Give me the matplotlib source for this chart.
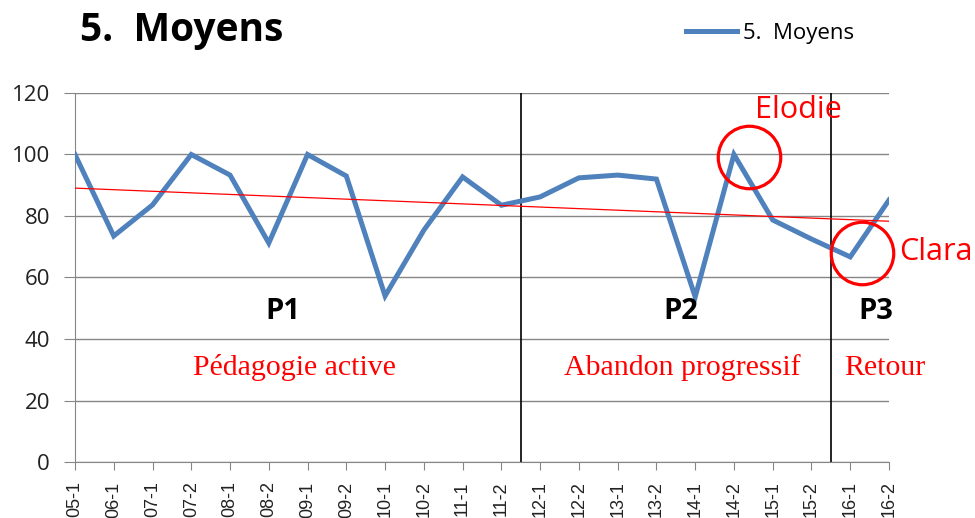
import numpy as np
import matplotlib.pyplot as plt

# semesters (year-semester)
periods = ["05-1", "06-1", "07-1", "07-2", "08-1", "08-2", "09-1", "09-2",
           "10-1", "10-2", "11-1", "11-2", "12-1", "12-2", "13-1", "13-2",
           "14-1", "14-2", "15-1", "15-2", "16-1", "16-2"]
moyens = [100, 73.5, 83.6, 100, 93.3, 71.2, 100, 93, 54, 75.4, 92.7, 83.5,
          86.2, 92.4, 93.3, 92, 53.7, 100, 78.7, 72.5, 66.7, 85.2]

# phase separators and labels
separators = [11.5, 19.5]
phases = ["P1", "P2", "P3"]
phase_x = [5.37, 15.63, 20.67]
phase_names = ["Pédagogie active", "Abandon progressif", "Retour"]
phase_name_x = [5.66, 15.68, 20.9]

# highlighted students
students = ["Elodie", "Clara"]
circle_xy = [(17.39, 99.2), (20.31, 68.0)]
student_xy = [(18.66, 114.5), (22.2, 68.3)]

blue = "#4F81BD"
grey = "#868686"

fig = plt.figure(figsize=(9.75, 5.18), dpi=100)
ax = fig.add_axes([0.0769, 0.1081, 0.8349, 0.7124])

x = np.arange(len(periods))
ax.plot(x, moyens, color=blue, linewidth=3.6, label="5.  Moyens",
        solid_joinstyle="miter", zorder=3)

# linear trend like Excel
slope, intercept = np.polyfit(x, moyens, 1)
ax.plot(x, slope * x + intercept, color="red", linewidth=0.9, zorder=4)

for s in separators:
    ax.axvline(s, color="black", linewidth=1.2, zorder=2)

ax.set_xlim(0, len(periods) - 1)
ax.set_ylim(0, 120)
ax.set_yticks(range(0, 121, 20))
ax.set_xticks(x)
ax.set_xticklabels(periods, rotation=90, family="Liberation Sans", fontsize=13)
for lbl in ax.get_yticklabels():
    lbl.set_family("Open Sans")
    lbl.set_fontsize(16)
ax.yaxis.grid(True, color=grey, linewidth=1)
ax.set_axisbelow(True)
for side in ["top", "right"]:
    ax.spines[side].set_visible(False)
for side in ["left", "bottom"]:
    ax.spines[side].set_color(grey)
ax.tick_params(axis="y", length=8, color=grey, pad=10, labelcolor="#222222")
ax.tick_params(axis="x", length=6, color=grey, pad=8, labelcolor="#222222")

for name, px in zip(phases, phase_x):
    ax.text(px, 49, name, ha="center", va="center", fontsize=21,
            fontweight="bold", family="Open Sans")
for name, px in zip(phase_names, phase_name_x):
    ax.text(px, 30.6, name, ha="center", va="center", fontsize=21.5,
            color="red", family="Liberation Serif")

for (cx, cy), (tx, ty), name in zip(circle_xy, student_xy, students):
    ax.plot(cx, cy, marker="o", markersize=45, markerfacecolor="none",
            markeredgecolor="red", markeredgewidth=2.3, clip_on=False, zorder=5)
    ax.text(tx, ty, name, ha="center", va="center", fontsize=22,
            color="red", family="Open Sans")

fig.text(80 / 975, 1 - 31 / 518, "5.  Moyens", fontsize=28, fontweight="bold",
         family="Open Sans", va="center", ha="left")

ax.legend(loc="center left", bbox_to_anchor=(686 / 975, 1 - 33 / 518),
          bbox_transform=fig.transFigure, frameon=False, handlelength=2.3,
          handletextpad=0.25, borderpad=0, borderaxespad=0,
          prop={"family": "Open Sans", "size": 16})

fig.savefig("out.png", dpi=100)
